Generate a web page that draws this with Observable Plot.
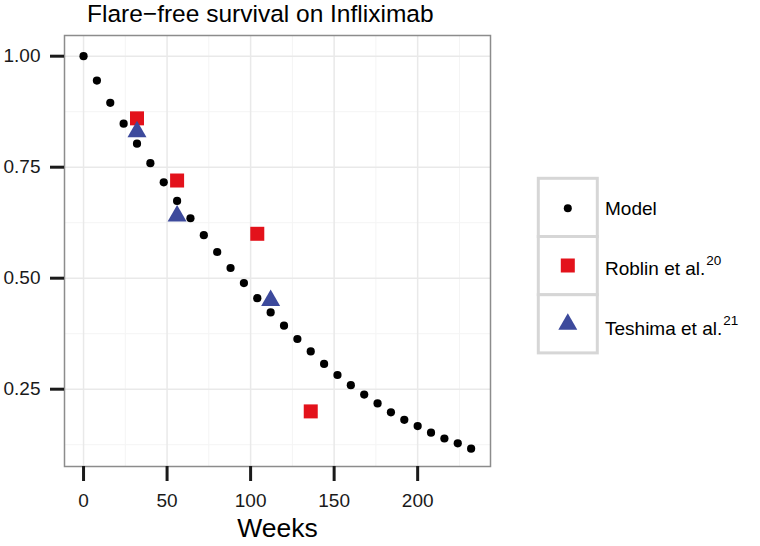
<!DOCTYPE html>
<html><head><meta charset="utf-8">
<script src="https://cdn.jsdelivr.net/npm/d3@7"></script>
<script src="https://cdn.jsdelivr.net/npm/@observablehq/plot@0.6"></script>
<style>
body{margin:0;background:#fff;font-family:"Liberation Sans",Arial,Helvetica,sans-serif;}
#wrap{position:relative;width:760px;height:546px;overflow:hidden;}
#title{position:absolute;left:87px;top:2px;font-size:24.5px;line-height:1;white-space:nowrap;color:#000;}
#chart{position:absolute;left:0;top:0;}
#legend{position:absolute;left:0;top:0;}
</style>
</head><body>
<div id="wrap">
  <div id="chart"></div>
  <div id="title">Flare−free survival on Infliximab</div>
  <svg id="legend" width="760" height="546"></svg>
</div>
<script>
// ---- data ----
const weeks = [0,8,16,24,32,40,48,56,64,72,80,88,96,104,112,120,128,136,144,152,160,168,176,184,192,200,208,216,224,232];
const survival = [1.00,0.945,0.895,0.848,0.803,0.759,0.716,0.674,0.635,0.597,0.559,0.523,0.489,0.455,0.423,0.393,0.363,0.335,0.307,0.282,0.259,0.238,0.218,0.198,0.181,0.167,0.152,0.139,0.128,0.116];
const roblinWeeks = [32,56,104,136];
const roblinSurv = [0.86,0.72,0.60,0.20];
const teshimaWeeks = [32,56,112];
const teshimaSurv = [0.83,0.64,0.45];
const xTicks = [0,50,100,150,200];
const xMinor = [25,75,125,175,225];
const yTicks = [0.25,0.50,0.75,1.00];
const yMinor = [0.125,0.375,0.625,0.875];
const legendNames = ["Model","Roblin et al.","Teshima et al."];
const legendSup = ["","20","21"];

const RED = "#e3121b", BLUE = "#3d4a9c";
const model = weeks.map((w,i)=>({week:w, surv:survival[i]}));
const roblin = roblinWeeks.map((w,i)=>({week:w, surv:roblinSurv[i]}));
const teshima = teshimaWeeks.map((w,i)=>({week:w, surv:teshimaSurv[i]}));

const rDot = 4.1, rSq = 7.9, rTri = 7.05;

const plot = Plot.plot({
  width: 760, height: 546,
  marginLeft: 64, marginRight: 270, marginTop: 35, marginBottom: 80,
  x: {domain: [-11.4, 243.6]},
  y: {domain: [0.0759, 1.0466]},
  style: {fontFamily: '"Liberation Sans", Arial, Helvetica, sans-serif', background: "transparent"},
  marks: [
    Plot.gridX(xMinor, {stroke: "#f4f4f4", strokeOpacity: 1, strokeWidth: 1}),
    Plot.gridY(yMinor, {stroke: "#f4f4f4", strokeOpacity: 1, strokeWidth: 1}),
    Plot.gridX(xTicks, {stroke: "#e9e9e9", strokeOpacity: 1, strokeWidth: 1.5}),
    Plot.gridY(yTicks, {stroke: "#e9e9e9", strokeOpacity: 1, strokeWidth: 1.5}),
    Plot.frame({stroke: "#8c8c8c", strokeWidth: 1.5}),
    Plot.axisX(xTicks, {tickSize: 15, tickPadding: 12, strokeWidth: 3, color: "#1a1a1a", fontSize: 19, label: null}),
    Plot.axisY(yTicks, {tickSize: 14, tickPadding: 10, strokeWidth: 3, color: "#1a1a1a", fontSize: 19, label: null, tickFormat: d3.format(".2f")}),
    Plot.text(["Weeks"], {text: d => d, frameAnchor: "bottom", lineAnchor: "middle", dy: 62.4, fontSize: 26.5, fill: "#000"}),
    Plot.dot(model, {x: "week", y: "surv", r: rDot, fill: "#000"}),
    Plot.dot(roblin, {x: "week", y: "surv", symbol: "square", r: rSq, fill: RED}),
    Plot.dot(teshima, {x: "week", y: "surv", symbol: "triangle", r: rTri, fill: BLUE})
  ]
});
document.getElementById("chart").appendChild(plot);

// ---- legend ----
const lg = d3.select("#legend");
const cellX = 538.3, cellY = 178.3, cellW = 59, cellH = 58.2;
const syms = [
  {type: d3.symbolCircle, r: 4, fill: "#000"},
  {type: d3.symbolSquare, r: 7.9, fill: RED},
  {type: d3.symbolTriangle, r: 7.05, fill: BLUE}
];
const symY = [208.3, 265.5, 324.2];
const baseY = [215, 275, 335];
legendNames.forEach((name, i) => {
  lg.append("rect").attr("x", cellX).attr("y", cellY + i*cellH).attr("width", cellW).attr("height", cellH)
    .attr("fill", "#fff").attr("stroke", "#d6d6d6").attr("stroke-width", 3);
});
legendNames.forEach((name, i) => {
  const s = syms[i];
  lg.append("path").attr("d", d3.symbol(s.type, Math.PI*s.r*s.r)())
    .attr("transform", `translate(${cellX + cellW/2},${symY[i]})`).attr("fill", s.fill);
  const t = lg.append("text").attr("x", 605).attr("y", baseY[i])
    .attr("font-size", 19).attr("fill", "#000")
    .attr("font-family", '"Liberation Sans", Arial, Helvetica, sans-serif');
  t.append("tspan").text(name);
  if (legendSup[i]) t.append("tspan").attr("dx", 1).attr("dy", -10).attr("font-size", 13.5).text(legendSup[i]);
});
</script>
</body></html>
